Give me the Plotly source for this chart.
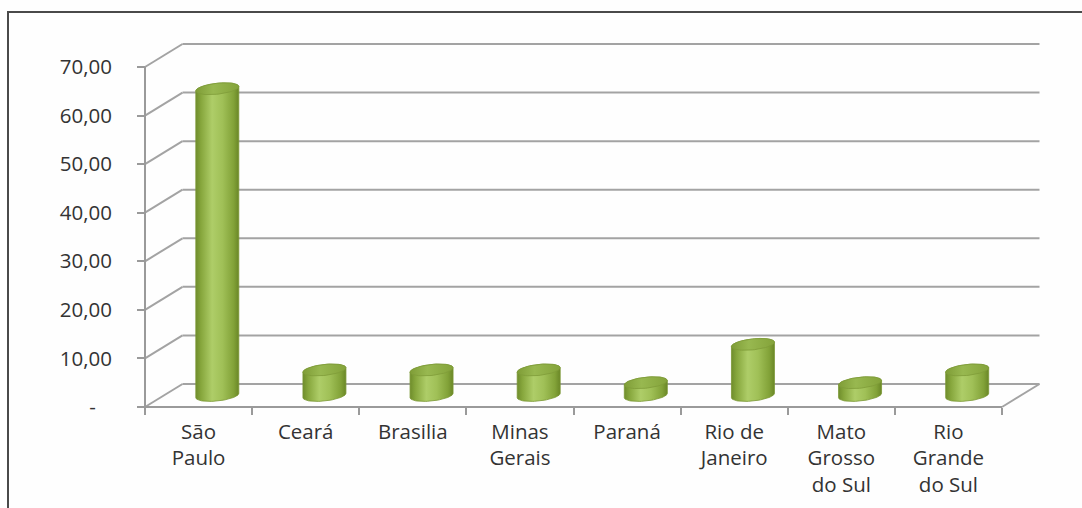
import numpy as np
import plotly.graph_objects as go

# ---- data -------------------------------------------------------------
categories = ["São<br>Paulo", "Ceará", "Brasilia", "Minas<br>Gerais", "Paraná",
              "Rio de<br>Janeiro", "Mato<br>Grosso<br>do Sul", "Rio<br>Grande<br>do Sul"]
values = [63.16, 5.26, 5.26, 5.26, 2.63, 10.53, 2.63, 5.26]
y_ticks = [0, 10, 20, 30, 40, 50, 60, 70]
y_tick_labels = ["-\u00a0\u00a0\u00a0", "10,00", "20,00", "30,00", "40,00",
                 "50,00", "60,00", "70,00"]

# ---- geometry of the pseudo-3D box (pixels) ---------------------------
W, H = 1082, 508
N = len(categories)
YMAX = 70
FX0, FX1 = 145, 1002        # front plane: left / right edge
FY0, FY1 = 407, 67          # front plane: value 0 / value 70
DEPTH_X, DEPTH_Y = 37.5, 23  # shift from front plane to back wall
PAD = 14

ppx = (FX1 - FX0) / N
ppy = (FY0 - FY1) / YMAX
ddx = DEPTH_X / ppx
ddy = DEPTH_Y / ppy

x_lo = -0.5 - PAD / ppx
x_hi = N - 0.5 + ddx + PAD / ppx
y_lo = -PAD / ppy
y_hi = YMAX + ddy + PAD / ppy


def px_x(x):
    return FX0 + (x + 0.5) * ppx


def px_y(y):
    return FY0 - y * ppy


x_domain = [px_x(x_lo) / W, px_x(x_hi) / W]
y_domain = [1 - px_y(y_lo) / H, 1 - px_y(y_hi) / H]

GRID = "#a3a3a3"
AXIS = "#9a9a9a"
FONT = dict(family="Open Sans", size=20.5, color="#333333")

fig = go.Figure()


def seg(x0, y0, x1, y1, color=GRID, width=2, xaxis="x"):
    fig.add_trace(go.Scatter(x=[x0, x1], y=[y0, y1], mode="lines", xaxis=xaxis,
                             line=dict(color=color, width=width),
                             hoverinfo="skip", showlegend=False))


# back wall gridlines and side-wall diagonals
left = -0.5
right = N - 0.5
for v in y_ticks:
    seg(left + ddx, v + ddy, right + ddx, v + ddy)
    seg(left, v, left + ddx, v + ddy)

# floor right edge, front value axis and front category axis
seg(right, 0, right + ddx, ddy)
seg(left, 0, left, YMAX, color=AXIS)
seg(left, 0, right, 0, color=AXIS, xaxis="x2")

# ---- cylinders --------------------------------------------------------
rx = 21.5 / ppx
ry = 5.5 / ppy
tilt = 2.2 / ppy
body_scale = [[0.0, "#6f8d2c"], [0.12, "#86a63c"], [0.38, "#aecd68"],
              [0.62, "#a0c057"], [0.88, "#82a238"], [1.0, "#6a8727"]]
top_scale = [[0.0, "#7f9d37"], [0.4, "#98b850"], [1.0, "#84a33a"]]

for i, v in enumerate(values):
    cx = i + ddx / 2
    base = ddy / 2
    top = base + v
    th_back = np.linspace(np.pi, 0, 40)
    th_front = np.linspace(0, -np.pi, 40)
    bx = np.concatenate([cx + rx * np.cos(th_back), cx + rx * np.cos(th_front)])
    by = np.concatenate([top + ry * np.sin(th_back) + tilt * np.cos(th_back),
                         base + ry * np.sin(th_front) + tilt * np.cos(th_front)])
    fig.add_trace(go.Scatter(x=np.append(bx, bx[0]), y=np.append(by, by[0]),
                             mode="lines", fill="toself",
                             fillgradient=dict(type="horizontal", colorscale=body_scale),
                             line=dict(color="#7a9734", width=0.8),
                             hoverinfo="skip", showlegend=False))
    th = np.linspace(0, 2 * np.pi, 60)
    fig.add_trace(go.Scatter(x=cx + rx * np.cos(th),
                             y=top + ry * np.sin(th) + tilt * np.cos(th),
                             mode="lines", fill="toself",
                             fillgradient=dict(type="horizontal", colorscale=top_scale),
                             line=dict(color="#7f9c38", width=0.8),
                             hoverinfo="skip", showlegend=False))

# ---- layout -----------------------------------------------------------
fig.update_layout(
    width=W, height=H,
    margin=dict(l=0, r=0, t=0, b=0),
    paper_bgcolor="#fefefe",
    plot_bgcolor="rgba(0,0,0,0)",
    showlegend=False,
    font=FONT,
    xaxis=dict(range=[x_lo, x_hi], domain=x_domain, anchor="free",
               position=1 - FY0 / H, tickmode="array",
               tickvals=list(range(N)), ticktext=categories, ticks="",
               showgrid=False, zeroline=False, showline=False,
               ticklabelstandoff=10, tickfont=FONT, fixedrange=True),
    xaxis2=dict(range=[x_lo, x_hi], overlaying="x", anchor="free",
                position=1 - FY0 / H, tickmode="array",
                tickvals=[i - 0.5 for i in range(N + 1)], ticks="outside",
                ticklen=7, tickwidth=2, tickcolor=AXIS, showticklabels=False,
                showgrid=False, zeroline=False, showline=False),
    yaxis=dict(range=[y_lo, y_hi], domain=y_domain, anchor="free",
               position=FX0 / W, tickmode="array", tickvals=y_ticks,
               ticktext=y_tick_labels, ticks="outside", ticklen=8, tickwidth=2,
               tickcolor=AXIS, showgrid=False, zeroline=False, showline=False,
               ticklabelstandoff=21, tickfont=FONT, fixedrange=True),
    shapes=[dict(type="path", xref="paper", yref="paper",
                 path=f"M {8 / W} 0 L {8 / W} {1 - 12 / H} L 1 {1 - 12 / H}",
                 line=dict(color="#4a4a4a", width=2))],
)

fig.write_html("out.html")
